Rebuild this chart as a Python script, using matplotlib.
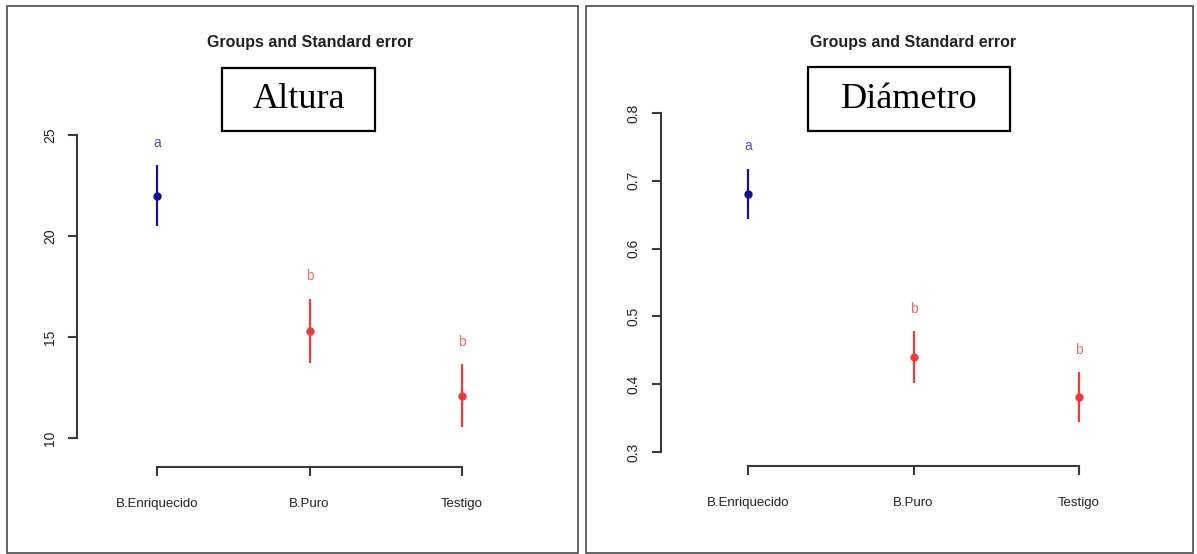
import matplotlib.pyplot as plt
from matplotlib.patches import Rectangle

groups = ["B.Enriquecido", "B.Puro", "Testigo"]

altura_mean = [22.0, 15.3, 12.1]
altura_se = [1.5, 1.6, 1.55]
altura_letters = ["a", "b", "b"]

diam_mean = [0.681, 0.440, 0.381]
diam_se = [0.037, 0.038, 0.037]
diam_letters = ["a", "b", "b"]

W, H = 1197, 554
fig = plt.figure(figsize=(W / 100, H / 100), dpi=100)

point_colors = ["#14148f", "#ee3a3a", "#ee3a3a"]
letter_colors = ["#5050b0", "#f06a6a", "#f06a6a"]
axis_col = "#3a3a3a"


def px_axes(x0, x1, y0, y1):
    # pixel box (left, right, top, bottom) -> figure fraction
    return fig.add_axes([x0 / W, 1 - y1 / H, (x1 - x0) / W, (y1 - y0) / H])


def panel(box, axbox, xpix, ypix, yticks, means, ses, letters, title, label,
          label_box, fmt):
    # outer frame
    bx0, bx1, by0, by1 = box
    fig.add_artist(Rectangle((bx0 / W, 1 - by1 / H), (bx1 - bx0) / W,
                             (by1 - by0) / H, transform=fig.transFigure,
                             fill=False, edgecolor="#4a4a4a", lw=1.2))

    x0, x1, y0, y1 = axbox
    ax = px_axes(x0, x1, y0, y1)
    # map data to pixel positions
    (p1, p3) = xpix
    kx = (p3 - p1) / 2.0
    ax.set_xlim(1 - (p1 - x0) / kx, 3 + (x1 - p3) / kx)
    (vtop, ptop), (vbot, pbot) = ypix
    ky = (pbot - ptop) / (vtop - vbot)
    ax.set_ylim(vbot - (y1 - pbot) / ky, vtop + (ptop - y0) / ky)

    xs = [1, 2, 3]
    for x, m, s, c, lc, lt in zip(xs, means, ses, point_colors,
                                  letter_colors, letters):
        ax.plot([x, x], [m - s, m + s], color=c, lw=1.6, solid_capstyle="butt")
        ax.plot(x, m, "o", color=c, ms=5)
        ax.annotate(lt, (x, m + s), xytext=(0, 16), textcoords="offset points",
                    ha="center", va="center", color=lc, fontsize=10,
                    family="Liberation Sans")

    for sp in ["top", "right"]:
        ax.spines[sp].set_visible(False)
    ax.spines["left"].set_bounds(yticks[0], yticks[-1])
    ax.spines["bottom"].set_bounds(1, 3)
    for sp in ["left", "bottom"]:
        ax.spines[sp].set_color(axis_col)
        ax.spines[sp].set_linewidth(1.5)
    ax.set_yticks(yticks)
    ax.set_yticklabels([fmt.format(v) for v in yticks], rotation=90,
                       va="center", family="Liberation Sans", fontsize=10,
                       color="#222222")
    ax.set_xticks(xs)
    ax.set_xticklabels(groups, family="Liberation Sans", fontsize=9.5,
                       color="#222222")
    ax.tick_params(axis="both", length=6.5, width=1.5, color=axis_col)
    ax.tick_params(axis="x", pad=16)
    ax.tick_params(axis="y", pad=8)
    ax.patch.set_alpha(0)

    fig.text(title[0] / W, 1 - title[1] / H, "Groups and Standard error",
             ha="center", va="center", fontsize=11.5, fontweight="bold",
             family="Liberation Sans", color="#222222")

    lx0, lx1, ly0, ly1 = label_box
    fig.add_artist(Rectangle((lx0 / W, 1 - ly1 / H), (lx1 - lx0) / W,
                             (ly1 - ly0) / H, transform=fig.transFigure,
                             fill=False, edgecolor="black", lw=1.6))
    fig.text((lx0 + lx1) / 2 / W, 1 - (ly0 + ly1) / 2 / H, label,
             ha="center", va="center", fontsize=26, family="Liberation Serif")
    return ax


panel((7, 578, 6, 553), (77, 540, 100, 467), (157, 462),
      ((25, 135), (10, 438)), [10, 15, 20, 25], altura_mean, altura_se,
      altura_letters, (310, 42), "Altura", (222, 375, 68, 131), "{:g}")

panel((586, 1193, 6, 553), (661, 1150, 90, 466), (748, 1079),
      ((0.8, 113), (0.3, 452)), [0.3, 0.4, 0.5, 0.6, 0.7, 0.8], diam_mean,
      diam_se, diam_letters, (913, 42), "Diámetro", (808, 1010, 67, 131),
      "{:.1f}")

fig.savefig("out.png", dpi=100)
